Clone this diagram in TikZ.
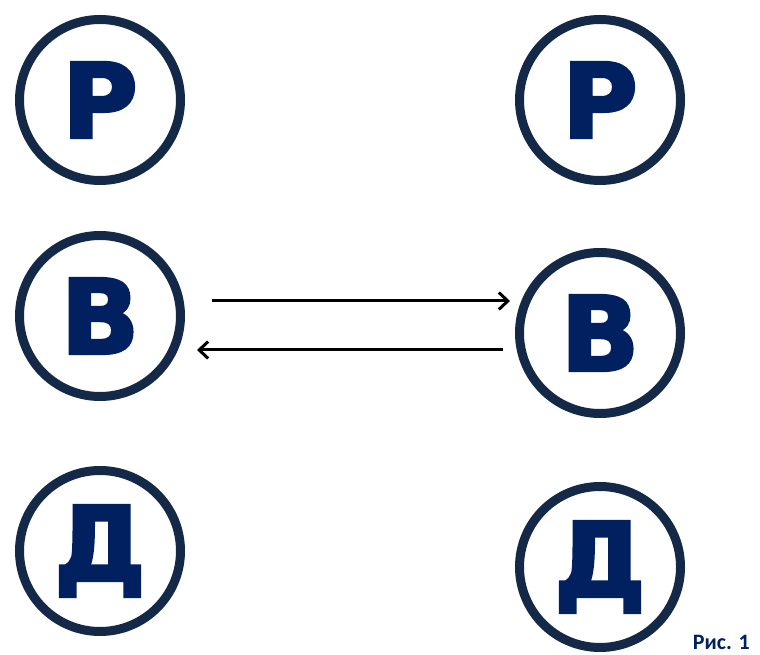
\documentclass[tikz,border=0pt]{standalone}
\usepackage{fontspec}
\usetikzlibrary{arrows.meta}
\newfontfamily\heavyfont[FakeBold=3]{DejaVu Sans Bold}
\newfontfamily\capfont{Carlito Bold}
\definecolor{ringcol}{RGB}{20,40,72}
\definecolor{lettercol}{RGB}{0,32,96}
\tikzset{
  ring/.style={circle,draw=ringcol,line width=9pt,minimum size=161pt,inner sep=0pt,
    text=lettercol,font=\heavyfont\fontsize{103}{103}\selectfont},
  conn/.style={line width=3pt,-{Straight Barb[length=9pt,width=17pt,line width=3pt]}}
}
\begin{document}
\begin{tikzpicture}[x=1pt,y=1pt]
\useasboundingbox (0,0) rectangle (760,655);
\node[ring] (p1) at (100,555) {Р};
\node[ring] (p2) at (600,555) {Р};
\node[ring] (b1) at (100,339) {В};
\node[ring] (b2) at (600,322) {В};
\node[ring] (d1) at (100,104) {Д};
\node[ring] (d2) at (600,88) {Д};
\coordinate (a1s) at (212,354);
\coordinate (a1e) at (510,354);
\coordinate (a2s) at (503,305);
\coordinate (a2e) at (197,305);
\draw[conn] (a1s) -- (a1e);
\draw[conn] (a2s) -- (a2e);
\node[anchor=base east,text=lettercol,font=\capfont\fontsize{22}{22}\selectfont,inner sep=0pt] (cap) at (750,5) {Рис. 1};
\end{tikzpicture}
\end{document}
